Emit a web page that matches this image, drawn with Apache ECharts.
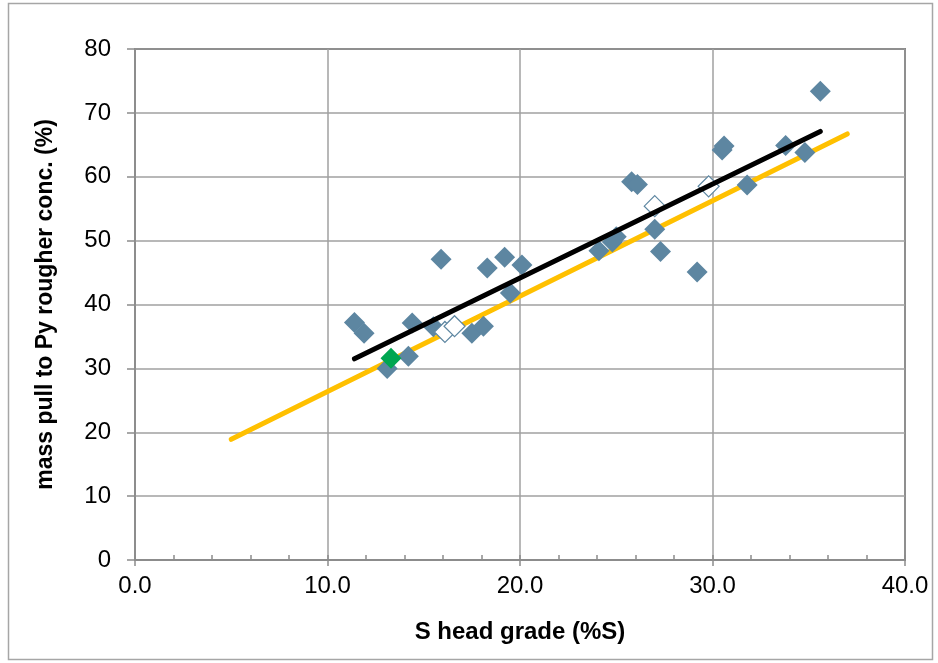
<!DOCTYPE html>
<html>
<head>
<meta charset="utf-8">
<script src="https://cdn.jsdelivr.net/npm/echarts@6/dist/echarts.min.js"></script>
<style>
  html, body { margin: 0; padding: 0; background: #fff; }
  #chart { width: 938px; height: 663px; }
</style>
</head>
<body>
<div id="chart"></div>
<script>
// measured samples (S head grade %, mass pull %)
const samplePoints = [
  [11.4, 37.2], [11.9, 35.5], [13.1, 30.0], [14.2, 31.9], [14.4, 37.1],
  [15.5, 36.5], [15.9, 47.1], [17.5, 35.5], [18.1, 36.6], [18.3, 45.7],
  [19.2, 47.4], [19.5, 41.8], [20.1, 46.2], [24.1, 48.4], [24.8, 49.8],
  [25.0, 50.6], [25.8, 59.2], [26.1, 58.8], [27.0, 51.8], [27.3, 48.3],
  [29.2, 45.1], [30.5, 64.2], [30.6, 64.8], [31.8, 58.7], [33.8, 64.9],
  [34.8, 63.8], [35.6, 73.4]
];
const hollowPoints = [[16.1, 35.7], [16.6, 36.6], [27.0, 55.4], [29.8, 58.5]];
const greenPoint = [[13.3, 31.6]];
// trend lines, end points only
const blackTrend = [[11.4, 31.5], [35.6, 67.1]];
const orangeTrend = [[5.0, 18.9], [37.0, 66.7]];

const xTitle = 'S head grade (%S)';
const yTitle = 'mass pull to Py rougher conc. (%)';

const FONT = '"Liberation Sans", Arial, sans-serif';
const MARKER = '#5d86a1';

const chart = echarts.init(document.getElementById('chart'));

chart.setOption({
  animation: false,
  textStyle: { fontFamily: FONT },
  graphic: [{
    type: 'rect',
    shape: { x: 8.5, y: 3.5, width: 924, height: 656 },
    style: { fill: 'none', stroke: '#a6a6a6', lineWidth: 1.5 },
    z: -10
  }],
  grid: {
    left: 135, right: 33, top: 49, bottom: 103,
    show: true, borderColor: '#262626', borderWidth: 1.5, backgroundColor: 'transparent'
  },
  xAxis: [{
    type: 'value', min: 0, max: 40, interval: 10,
    name: xTitle, nameLocation: 'middle', nameGap: 60,
    nameTextStyle: { fontSize: 24, fontWeight: 'bold', color: '#000', fontFamily: FONT },
    axisLine: { lineStyle: { color: '#8c8c8c', width: 1.5 } },
    axisTick: { show: true, length: 6, lineStyle: { color: '#8c8c8c', width: 1.5 } },
    axisLabel: { fontSize: 24, color: '#000', margin: 14, formatter: v => v.toFixed(1) },
    splitLine: { show: true, lineStyle: { color: '#a0a0a0', width: 1.5 } }
  }, {
    // minor ticks every 2, pointing inward
    type: 'value', min: 0, max: 40, interval: 2, position: 'bottom',
    axisLine: { show: false },
    axisTick: { show: true, inside: true, length: 5, lineStyle: { color: '#8c8c8c', width: 1.5 } },
    axisLabel: { show: false },
    splitLine: { show: false }
  }],
  yAxis: {
    type: 'value', min: 0, max: 80, interval: 10,
    name: yTitle, nameLocation: 'middle', nameGap: 78, nameRotate: 90,
    nameTextStyle: { fontSize: 23, fontWeight: 'bold', color: '#000', fontFamily: FONT },
    axisLine: { show: true, lineStyle: { color: '#8c8c8c', width: 1.5 } },
    axisTick: { show: true, length: 8, lineStyle: { color: '#8c8c8c', width: 1.5 } },
    axisLabel: { fontSize: 24, color: '#000', margin: 24 },
    splitLine: { show: true, lineStyle: { color: '#a0a0a0', width: 1.5 } }
  },
  series: [
    {
      type: 'line', data: orangeTrend, symbol: 'none', z: 2,
      lineStyle: { color: '#ffc000', width: 5, cap: 'round' }
    },
    {
      type: 'scatter', data: samplePoints, symbol: 'diamond', symbolSize: 21, z: 3,
      itemStyle: { color: MARKER, opacity: 1 }
    },
    {
      type: 'scatter', data: hollowPoints, symbol: 'diamond', symbolSize: 21, z: 4,
      itemStyle: { color: '#fff', borderColor: MARKER, borderWidth: 1.2, opacity: 1 }
    },
    {
      type: 'scatter', data: greenPoint, symbol: 'diamond', symbolSize: 21, z: 5,
      itemStyle: { color: '#00a651', opacity: 1 }
    },
    {
      type: 'line', data: blackTrend, symbol: 'none', z: 6,
      lineStyle: { color: '#000', width: 5, cap: 'round' }
    }
  ]
});
</script>
</body>
</html>
